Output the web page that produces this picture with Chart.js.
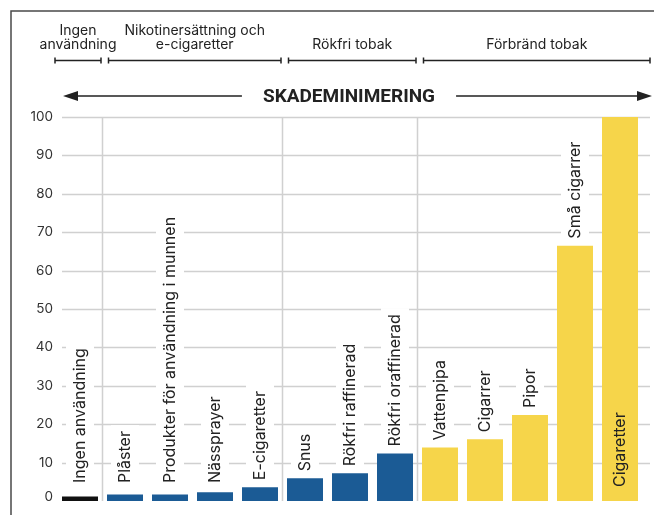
<!DOCTYPE html>
<html lang="sv">
<head>
<meta charset="utf-8">
<title>Skademinimering</title>
<script src="https://cdn.jsdelivr.net/npm/chart.js@4/dist/chart.umd.min.js"></script>
<style>
    html, body { margin: 0; padding: 0; background: #ffffff; }
    #wrap { width: 654px; height: 515px; }
</style>
</head>
<body>
<div id="wrap"><canvas id="chart" width="654" height="515"></canvas></div>
<script>
// Data
const categories = [
    'Ingen användning', 'Plåster', 'Produkter för användning i munnen', 'Nässprayer',
    'E-cigaretter', 'Snus', 'Rökfri raffinerad', 'Rökfri oraffinerad', 'Vattenpipa',
    'Cigarrer', 'Pipor', 'Små cigarrer', 'Cigaretter'
];
const values = [1.2, 1.7, 1.7, 2.3, 3.6, 5.9, 7.2, 12.4, 13.9, 16.1, 22.4, 66.5, 100];
const yTicks = [0, 10, 20, 30, 40, 50, 60, 70, 80, 90, 100];

// Groups (header brackets)
const groupNames = [['Ingen', 'användning'], ['Nikotinersättning och', 'e-cigaretter'], ['Rökfri tobak'], ['Förbränd tobak']];
const groupFirst = [0, 1, 5, 8];
const groupLast = [0, 4, 7, 12];
const groupColors = ['#111111', '#1b5b95', '#1b5b95', '#f6d54a'];
const insideLabel = [false, false, false, false, false, false, false, false, false, false, false, false, true];
const headline = 'SKADEMINIMERING';

const FONT = 'Inter, "Noto Sans", sans-serif';

// färg per stapel efter grupp
const barColors = categories.map((c, i) => {
    const g = groupFirst.findIndex((f, k) => i >= f && i <= groupLast[k]);
    return groupColors[g];
});

function boundary(xScale, g) {
    return (xScale.getPixelForValue(groupLast[g]) + xScale.getPixelForValue(groupFirst[g + 1])) / 2;
}

const decor = {
    id: 'decor',
    beforeDatasetsDraw(chart) {
        const { ctx, chartArea, scales: { x, y } } = chart;
        const gridLeft = chartArea.left + 4.5;
        const gridRight = chartArea.right + 7.5;

        ctx.save();
        // horisontella rutnätslinjer
        ctx.strokeStyle = '#d0d0d0';
        ctx.lineWidth = 1.5;
        yTicks.forEach(t => {
            if (t === 0) return;
            const py = Math.round(y.getPixelForValue(t)) + 0.5;
            ctx.beginPath();
            ctx.moveTo(gridLeft, py);
            ctx.lineTo(gridRight, py);
            ctx.stroke();
        });
        // vertikala gruppavdelare
        for (let g = 0; g < groupNames.length - 1; g++) {
            const px = Math.round(boundary(x, g)) - 0.5;
            ctx.beginPath();
            ctx.moveTo(px, y.getPixelForValue(100));
            ctx.lineTo(px, y.getPixelForValue(0));
            ctx.stroke();
        }
        ctx.restore();
    },
    afterDatasetsDraw(chart) {
        const { ctx, chartArea, scales: { x, y } } = chart;
        const gridLeft = chartArea.left + 4.5;
        const gridRight = chartArea.right + 7.5;

        ctx.save();
        // ram
        ctx.strokeStyle = '#4a4a4a';
        ctx.lineWidth = 1.5;
        ctx.beginPath();
        ctx.moveTo(11, chart.height);
        ctx.lineTo(11, 11);
        ctx.lineTo(chart.width, 11);
        ctx.stroke();

        // y-axelns etiketter
        ctx.fillStyle = '#333333';
        ctx.font = '13.5px ' + FONT;
        ctx.textAlign = 'right';
        ctx.textBaseline = 'middle';
        yTicks.forEach(t => {
            const py = y.getPixelForValue(t) - (t === 0 ? 4 : 0);
            ctx.fillText(String(t), 53, py);
        });

        // stapeletiketter (roterade)
        ctx.font = '16px ' + FONT;
        categories.forEach((label, i) => {
            const px = x.getPixelForValue(i);
            const w = ctx.measureText(label).width;
            let start;
            if (insideLabel[i]) {
                start = y.getPixelForValue(0) - 14;
            } else {
                start = Math.min(y.getPixelForValue(values[i]) - 7, y.getPixelForValue(0) - 18);
                ctx.fillStyle = '#ffffff';
                ctx.fillRect(px - 14, start - w - 6, 28, w + 10);
            }
            ctx.save();
            ctx.translate(px, start);
            ctx.rotate(-Math.PI / 2);
            ctx.fillStyle = '#222222';
            ctx.textAlign = 'left';
            ctx.textBaseline = 'middle';
            ctx.fillText(label, 0, 0);
            ctx.restore();
        });

        // grupprubriker och klamrar
        ctx.strokeStyle = '#222222';
        ctx.fillStyle = '#222222';
        ctx.lineWidth = 1.5;
        ctx.font = '14px ' + FONT;
        ctx.textAlign = 'center';
        ctx.textBaseline = 'middle';
        const bracketY = 60.5;
        groupNames.forEach((lines, g) => {
            const left = g === 0 ? chartArea.left - 2.5 : boundary(x, g - 1) + 6;
            const right = g === groupNames.length - 1 ? gridRight : boundary(x, g) - 1.5;
            ctx.beginPath();
            ctx.moveTo(left, bracketY);
            ctx.lineTo(right, bracketY);
            ctx.moveTo(left, bracketY - 3);
            ctx.lineTo(left, bracketY + 3);
            ctx.moveTo(right, bracketY - 3);
            ctx.lineTo(right, bracketY + 3);
            ctx.stroke();
            const cx = (left + right) / 2;
            if (lines.length === 2) {
                ctx.fillText(lines[0], cx, 31);
                ctx.fillText(lines[1], cx, 45);
            } else {
                ctx.fillText(lines[0], cx, 45);
            }
        });

        // pil med rubrik
        const arrowY = 96;
        const ax0 = gridLeft + 1;
        const ax1 = gridRight + 2;
        const mid = (chartArea.left + chartArea.right) / 2 - 1;
        ctx.font = 'bold 19px Roboto, ' + FONT;
        const tw = ctx.measureText(headline).width;
        ctx.fillText(headline, mid, arrowY + 1);
        const gap = tw / 2 + 21;
        ctx.beginPath();
        ctx.moveTo(ax0 + 10, arrowY);
        ctx.lineTo(mid - gap, arrowY);
        ctx.moveTo(mid + gap, arrowY);
        ctx.lineTo(ax1 - 10, arrowY);
        ctx.stroke();
        ctx.beginPath();
        ctx.moveTo(ax0, arrowY);
        ctx.lineTo(ax0 + 15, arrowY - 5);
        ctx.lineTo(ax0 + 15, arrowY + 5);
        ctx.closePath();
        ctx.moveTo(ax1, arrowY);
        ctx.lineTo(ax1 - 15, arrowY - 5);
        ctx.lineTo(ax1 - 15, arrowY + 5);
        ctx.closePath();
        ctx.fill();
        ctx.restore();
    }
};

const ctx = document.getElementById('chart').getContext('2d');
new Chart(ctx, {
    type: 'bar',
    data: {
        labels: categories,
        datasets: [{
            data: values,
            backgroundColor: barColors,
            borderWidth: 0,
            barPercentage: 0.8,
            categoryPercentage: 1,
            clip: false
        }]
    },
    options: {
        responsive: false,
        animation: false,
        layout: {
            padding: { left: 57.5, right: 11.5, top: 117, bottom: 14 }
        },
        plugins: {
            legend: { display: false },
            tooltip: { enabled: false }
        },
        scales: {
            x: { display: false },
            y: { display: false, min: 0, max: 100 }
        }
    },
    plugins: [decor]
});
</script>
</body>
</html>
